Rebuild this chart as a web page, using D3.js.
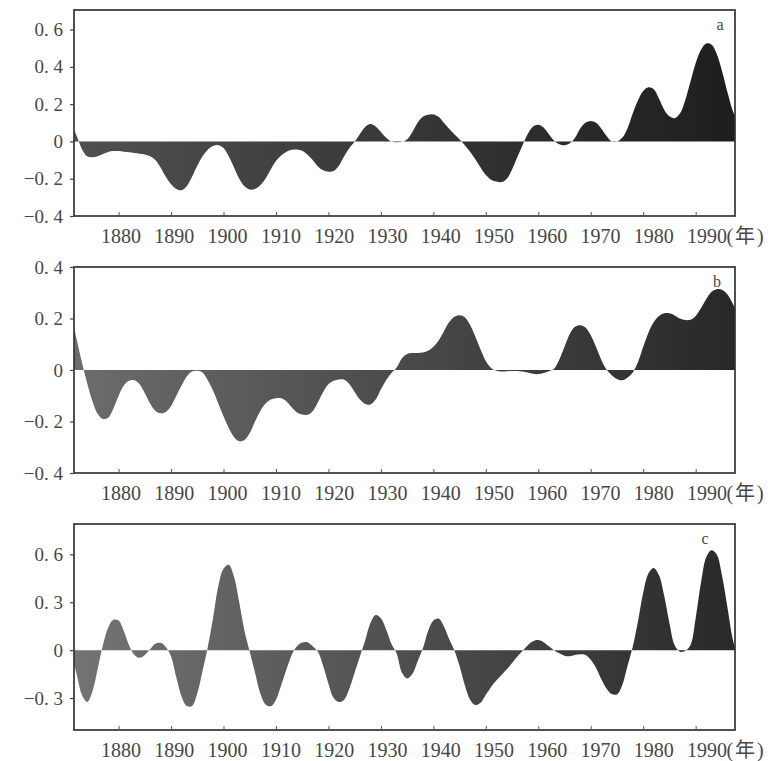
<!DOCTYPE html>
<html>
<head>
<meta charset="utf-8">
<script src="https://cdn.jsdelivr.net/npm/d3@7"></script>
<style>
  body { margin: 0; background: #fff; }
</style>
</head>
<body>
<div id="chart"></div>
<script>
// annual values, 1871 .. 1998
const firstYear = 1871;

const seriesA = [
  0.09, 0.03, -0.04, -0.08, -0.085, -0.08, -0.068, -0.057, -0.052, -0.052,
  -0.055, -0.058, -0.062, -0.066, -0.07, -0.08, -0.1, -0.14, -0.19, -0.23,
  -0.255, -0.262, -0.24, -0.19, -0.13, -0.08, -0.045, -0.025, -0.02, -0.035,
  -0.08, -0.14, -0.2, -0.24, -0.258, -0.255, -0.235, -0.2, -0.15, -0.105,
  -0.075, -0.055, -0.045, -0.043, -0.05, -0.07, -0.1, -0.135, -0.155, -0.162,
  -0.158, -0.13, -0.08, -0.035, -0.002, 0.04, 0.078, 0.093, 0.08, 0.05,
  0.02, 0.0, -0.004, -0.002, 0.01, 0.05, 0.1, 0.132, 0.143, 0.145,
  0.132, 0.1, 0.068, 0.038, 0.01, -0.02, -0.055, -0.095, -0.14, -0.18,
  -0.205, -0.215, -0.218, -0.2, -0.15, -0.085, -0.02, 0.04, 0.08, 0.09,
  0.075, 0.04, 0.005, -0.015, -0.02, -0.01, 0.02, 0.07, 0.1, 0.11,
  0.1, 0.07, 0.03, 0.0, 0.0, 0.02, 0.07, 0.15, 0.22, 0.27,
  0.29, 0.28, 0.23, 0.17, 0.135, 0.125, 0.15, 0.22, 0.32, 0.42,
  0.49, 0.525, 0.52, 0.47, 0.38, 0.27, 0.17, 0.1
];

const seriesB = [
  0.21, 0.12, 0.03, -0.05, -0.12, -0.17, -0.19, -0.185, -0.15, -0.1,
  -0.06, -0.042, -0.04, -0.055, -0.09, -0.13, -0.158, -0.168, -0.163, -0.14,
  -0.1, -0.06, -0.025, -0.006, -0.003, -0.01, -0.04, -0.08, -0.13, -0.18,
  -0.225, -0.26, -0.277, -0.272, -0.245, -0.2, -0.16, -0.13, -0.115, -0.11,
  -0.11, -0.122, -0.145, -0.165, -0.173, -0.174, -0.16, -0.125, -0.085, -0.055,
  -0.042, -0.037, -0.038, -0.055, -0.085, -0.115, -0.132, -0.134, -0.115, -0.075,
  -0.04, -0.012, 0.01, 0.045, 0.062, 0.066, 0.066, 0.068, 0.075, 0.09,
  0.115, 0.15, 0.185, 0.207, 0.213, 0.205, 0.175, 0.13, 0.08, 0.035,
  0.008, -0.003, -0.006, -0.005, -0.004, -0.004, -0.006, -0.01, -0.015, -0.016,
  -0.012, -0.005, 0.005, 0.04, 0.09, 0.14, 0.168, 0.174, 0.165, 0.135,
  0.09, 0.04, 0.002, -0.02, -0.035, -0.04, -0.03, -0.01, 0.03, 0.09,
  0.145, 0.185, 0.21, 0.22, 0.22, 0.212, 0.2, 0.194, 0.195, 0.21,
  0.24, 0.275, 0.303, 0.314, 0.312, 0.295, 0.26, 0.22
];

const seriesC = [
  -0.02, -0.15, -0.28, -0.325, -0.26, -0.12, 0.03, 0.14, 0.19, 0.185,
  0.12, 0.03, -0.03, -0.048, -0.03, 0.005, 0.04, 0.046, 0.02, -0.04,
  -0.17, -0.29, -0.35, -0.35, -0.27, -0.13, 0.02, 0.2, 0.4, 0.51,
  0.535, 0.46, 0.3, 0.12, -0.01, -0.14, -0.27, -0.34, -0.352, -0.31,
  -0.22, -0.12, -0.03, 0.025, 0.048, 0.05, 0.025, -0.01, -0.1, -0.21,
  -0.3, -0.325, -0.31, -0.24, -0.14, -0.04, 0.06, 0.17, 0.22, 0.2,
  0.13, 0.04, -0.02, -0.14, -0.177, -0.15, -0.07, 0.01, 0.12, 0.185,
  0.198, 0.15, 0.07, 0.0, -0.1, -0.22, -0.31, -0.344, -0.33, -0.28,
  -0.23, -0.19, -0.155, -0.12, -0.08, -0.04, -0.005, 0.03, 0.055, 0.063,
  0.05, 0.025, 0.0, -0.02, -0.035, -0.038, -0.03, -0.025, -0.03, -0.06,
  -0.11, -0.18, -0.24, -0.275, -0.277, -0.22, -0.1, 0.02, 0.18, 0.36,
  0.48, 0.515, 0.47, 0.34, 0.17, 0.03, -0.01, -0.005, 0.03, 0.2,
  0.42, 0.58, 0.625, 0.6, 0.47, 0.28, 0.08, -0.05
];

const yearTicks = [1880, 1890, 1900, 1910, 1920, 1930, 1940, 1950, 1960, 1970, 1980, 1990];
const ticksA = [-0.4, -0.2, 0, 0.2, 0.4, 0.6];
const ticksB = [-0.4, -0.2, 0, 0.2, 0.4];
const ticksC = [-0.3, 0, 0.3, 0.6];
const panelLabels = ["a", "b", "c"];
const yearUnit = "(年)";

const W = 773, H = 761;
const left = 74, right = 735, panelH = 206;
const serif = '"Liberation Serif", "DejaVu Serif", "Noto Sans CJK SC", serif';
const ink = "#474747";

const panels = [
  { values: seriesA, ticks: ticksA, domain: [-0.4, 0.705], top: 10, c0: "#505050", c1: "#1e1e1e", lx: 720 },
  { values: seriesB, ticks: ticksB, domain: [-0.4, 0.4], top: 267, c0: "#6c6c6c", c1: "#282828", lx: 717 },
  { values: seriesC, ticks: ticksC, domain: [-0.5, 0.79], top: 524, c0: "#747474", c1: "#292929", lx: 705 }
];

const x = d3.scaleLinear().domain([1871.5, 1997.5]).range([left, right]);

const fmt = d => d === 0 ? "0" : (d < 0 ? "−" : "") + Math.abs(d).toFixed(1).replace(".", ". ");
// printed year labels drift a little right of their ticks
const labelShift = d => 2 + (d - 1880) * 0.08;

const svg = d3.select("#chart").append("svg")
  .attr("width", W)
  .attr("height", H);

const defs = svg.append("defs");

panels.forEach((p, i) => {
  const key = panelLabels[i];
  const data = p.values.map((v, k) => ({ year: firstYear + k, value: v }));
  const y = d3.scaleLinear().domain(p.domain).range([p.top + panelH, p.top]);

  const grad = defs.append("linearGradient")
    .attr("id", "fill-" + key)
    .attr("gradientUnits", "userSpaceOnUse")
    .attr("x1", left).attr("x2", right).attr("y1", 0).attr("y2", 0);
  grad.append("stop").attr("offset", "0%").attr("stop-color", p.c0);
  grad.append("stop").attr("offset", "100%").attr("stop-color", p.c1);

  defs.append("clipPath").attr("id", "clip-" + key)
    .append("rect")
    .attr("x", left).attr("y", p.top)
    .attr("width", right - left).attr("height", panelH);

  const g = svg.append("g");

  const area = d3.area()
    .x(d => x(d.year))
    .y0(y(0))
    .y1(d => y(d.value))
    .curve(d3.curveCatmullRom.alpha(0.5));

  g.append("path")
    .datum(data)
    .attr("clip-path", `url(#clip-${key})`)
    .attr("fill", `url(#fill-${key})`)
    .attr("d", area);

  // frame
  g.append("rect")
    .attr("x", left).attr("y", p.top)
    .attr("width", right - left).attr("height", panelH)
    .attr("fill", "none")
    .attr("stroke", "#333")
    .attr("stroke-width", 1.7);

  // y axis
  const gy = g.append("g")
    .attr("transform", `translate(${left},0)`)
    .call(d3.axisLeft(y).tickValues(p.ticks).tickFormat(fmt).tickSize(4).tickPadding(7));
  gy.select(".domain").remove();
  gy.selectAll(".tick line").attr("stroke", "#444").attr("stroke-width", 1.2);
  gy.selectAll(".tick text")
    .style("font-family", serif)
    .style("font-size", "19px")
    .attr("fill", ink);

  // x axis, inner ticks
  const gx = g.append("g")
    .attr("transform", `translate(0,${p.top + panelH})`)
    .call(d3.axisBottom(x).tickValues(yearTicks).tickFormat(d3.format("d")).tickSize(-4).tickPadding(13));
  gx.select(".domain").remove();
  gx.selectAll(".tick line").attr("stroke", "#555").attr("stroke-width", 1);
  gx.selectAll(".tick text")
    .style("font-family", serif)
    .style("font-size", "20px")
    .attr("fill", ink)
    .attr("dx", labelShift);

  const last = gx.selectAll(".tick text").filter(d => d === 1990).node();
  const half = last.getComputedTextLength() / 2;

  gx.append("text")
    .attr("text-anchor", "start")
    .attr("x", x(1990) + labelShift(1990) + half)
    .attr("y", 13)
    .attr("dy", "0.71em")
    .style("font-family", serif)
    .style("font-size", "20px")
    .style("letter-spacing", "2px")
    .attr("fill", ink)
    .text(yearUnit);

  g.append("text")
    .attr("x", p.lx)
    .attr("y", p.top + 20)
    .attr("text-anchor", "middle")
    .style("font-family", serif)
    .style("font-size", "16px")
    .attr("fill", ink)
    .text(key);
});
</script>
</body>
</html>
